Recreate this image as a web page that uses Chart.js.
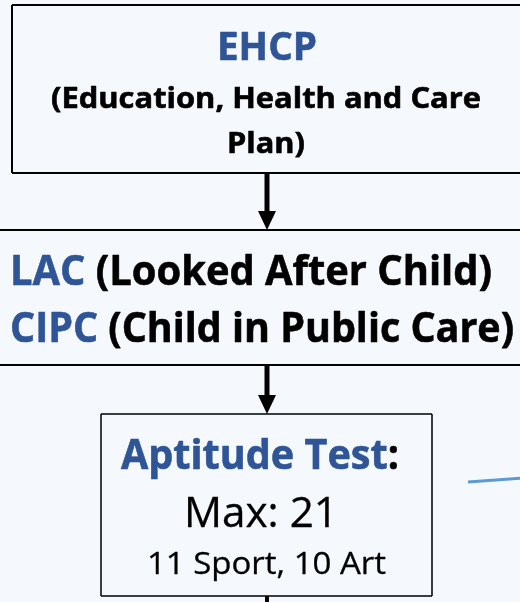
<!DOCTYPE html>
<html>
<head>
<meta charset="utf-8">
<script src="https://cdn.jsdelivr.net/npm/chart.js@4.4.1/dist/chart.umd.min.js"></script>
<style>
  html, body { margin: 0; padding: 0; background: #f5f9fd; }
  canvas { display: block; }
</style>
</head>
<body>
<canvas id="flow" width="520" height="602"></canvas>
<script>
// Flow text content
const ehcpTitle = 'EHCP';
const ehcpLines = ['(Education, Health and Care', 'Plan)'];
const careCodes = ['LAC', 'CIPC'];
const careNames = ['(Looked After Child)', '(Child in Public Care)'];
const testTitle = 'Aptitude Test';
const testMax = 21;
const testSplit = [11, 10];
const testSplitLabels = ['Sport', 'Art'];

const BLUE = '#2f5597';
const BLACK = '#000000';
const FONT = '"Open Sans", "Noto Sans", sans-serif';

// text lines: runs of [text, colour], placed in page units (px on a 520x602 grid)
const textLines = [
    {runs: [[ehcpTitle, BLUE]], bold: true, cx: 267, base: 60, cap: 28, w: 100},
    {runs: [[ehcpLines[0], BLACK]], bold: true, cx: 266, base: 108, cap: 20.5, w: 430},
    {runs: [[ehcpLines[1], BLACK]], bold: true, cx: 266, base: 153, cap: 21, w: 78},
    {runs: [[careCodes[0], BLUE], [' ' + careNames[0], BLACK]], bold: true, left: 10, base: 285, cap: 30, w: 482},
    {runs: [[careCodes[1], BLUE], [' ' + careNames[1], BLACK]], bold: true, left: 10, base: 342, cap: 29.5, w: 504},
    {runs: [[testTitle, BLUE], [':', BLACK]], bold: true, left: 121, base: 469, cap: 29, w: 278},
    {runs: [['Max: ' + testMax, BLACK]], bold: false, left: 184, base: 527, cap: 30, w: 154},
    {runs: [[`${testSplit[0]} ${testSplitLabels[0]}, ${testSplit[1]} ${testSplitLabels[1]}`, BLACK]],
        bold: false, left: 147, base: 574, cap: 22, w: 239},
];

// boxes: [left, top, right, bottom, lineWidth, sides]
const boxes = [
    {l: 12, t: 5, r: 540, b: 173, lw: 2, sides: 'tlb'},
    {l: -20, t: 230, r: 540, b: 365, lw: 2, sides: 'tb'},
    {l: 101, t: 414, r: 432, b: 596, lw: 1.5, sides: 'tlrb'},
];

// arrow heads: tip position
const arrowTips = [{x: 267, y: 230}, {x: 267, y: 414}];

const flowPlugin = {
    id: 'flow',
    beforeDraw(chart) {
        const ctx = chart.ctx;
        ctx.save();
        ctx.fillStyle = '#f5f9fd';
        ctx.fillRect(0, 0, chart.width, chart.height);
        ctx.restore();
    },
    afterDatasetsDraw(chart) {
        const ctx = chart.ctx;
        const xs = chart.scales.x;
        const ys = chart.scales.y;
        const px = v => xs.getPixelForValue(v);
        const py = v => ys.getPixelForValue(v);

        ctx.save();
        ctx.strokeStyle = '#000';
        boxes.forEach(b => {
            ctx.lineWidth = b.lw;
            ctx.beginPath();
            if (b.sides.includes('t')) { ctx.moveTo(px(b.l), py(b.t)); ctx.lineTo(px(b.r), py(b.t)); }
            if (b.sides.includes('b')) { ctx.moveTo(px(b.l), py(b.b)); ctx.lineTo(px(b.r), py(b.b)); }
            if (b.sides.includes('l')) { ctx.moveTo(px(b.l), py(b.t)); ctx.lineTo(px(b.l), py(b.b)); }
            if (b.sides.includes('r')) { ctx.moveTo(px(b.r), py(b.t)); ctx.lineTo(px(b.r), py(b.b)); }
            ctx.stroke();
        });

        ctx.fillStyle = '#000';
        arrowTips.forEach(a => {
            ctx.beginPath();
            ctx.moveTo(px(a.x - 9), py(a.y - 19));
            ctx.lineTo(px(a.x + 9), py(a.y - 19));
            ctx.lineTo(px(a.x), py(a.y));
            ctx.closePath();
            ctx.fill();
        });

        textLines.forEach(line => {
            const weight = line.bold ? 'bold ' : '';
            ctx.font = weight + '100px ' + FONT;
            const capRatio = ctx.measureText('H').actualBoundingBoxAscent / 100;
            const size = line.cap / capRatio;
            ctx.font = weight + size.toFixed(2) + 'px ' + FONT;
            const full = line.runs.map(r => r[0]).join('');
            const natural = ctx.measureText(full).width;
            const sx = line.w / natural;
            const left = line.left !== undefined ? line.left : line.cx - line.w / 2;
            ctx.save();
            ctx.translate(px(left), py(line.base));
            ctx.scale(sx, 1);
            ctx.textBaseline = 'alphabetic';
            ctx.textAlign = 'left';
            ctx.lineWidth = line.bold ? 0.6 : 0.3;
            ctx.lineJoin = 'round';
            let x = 0;
            line.runs.forEach(([txt, col]) => {
                ctx.fillStyle = col;
                ctx.strokeStyle = col;
                ctx.fillText(txt, x, 0);
                ctx.strokeText(txt, x, 0);
                x += ctx.measureText(txt).width;
            });
            ctx.restore();
        });
        ctx.restore();
    }
};

new Chart(document.getElementById('flow'), {
    type: 'scatter',
    data: {
        datasets: [
            {data: [{x: 267, y: 173}, {x: 267, y: 213}], borderColor: '#000', borderWidth: 5},
            {data: [{x: 267, y: 365}, {x: 267, y: 397}], borderColor: '#000', borderWidth: 5},
            {data: [{x: 267, y: 596}, {x: 267, y: 610}], borderColor: '#000', borderWidth: 4},
            {data: [{x: 468, y: 482}, {x: 525, y: 478}], borderColor: '#5b9bd5', borderWidth: 3},
        ].map(d => Object.assign(d, {showLine: true, pointRadius: 0, borderCapStyle: 'butt', clip: false})),
    },
    options: {
        responsive: false,
        animation: false,
        devicePixelRatio: 1,
        layout: {padding: 0},
        events: [],
        scales: {
            x: {type: 'linear', min: 0, max: 520, display: false},
            y: {type: 'linear', min: 0, max: 602, reverse: true, display: false},
        },
        plugins: {legend: {display: false}, tooltip: {enabled: false}},
    },
    plugins: [flowPlugin],
});
</script>
</body>
</html>
